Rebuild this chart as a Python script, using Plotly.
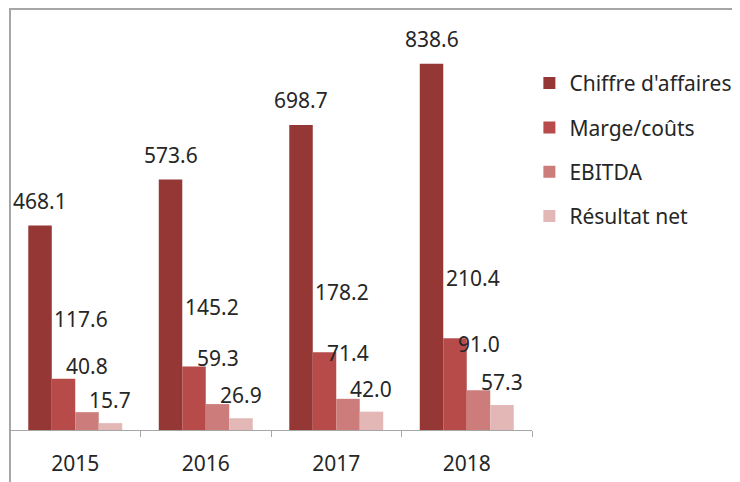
import plotly.graph_objects as go

years = ["2015", "2016", "2017", "2018"]
series_names = ["Chiffre d'affaires", "Marge/coûts", "EBITDA", "Résultat net"]
chiffre = [468.1, 573.6, 698.7, 838.6]
marge = [117.6, 145.2, 178.2, 210.4]
ebitda = [40.8, 59.3, 71.4, 91.0]
resultat = [15.7, 26.9, 42.0, 57.3]

colors = ["#953735", "#b64b49", "#cb7c7b", "#e2b7b6"]
# label placement per series: (x shift, y shift) in px, relative to the bar top
label_shift = [(-35, 25), (6, 60), (12, 46), (35, 23)]
text_color = "#262626"
font_family = "Noto Sans, Open Sans, sans-serif"
fsize = 21


def main():
    fig = go.Figure()
    all_values = [chiffre, marge, ebitda, resultat]
    for i, (name, vals) in enumerate(zip(series_names, all_values)):
        fig.add_trace(go.Bar(
            x=years, y=vals, name=name,
            marker=dict(color=colors[i], line=dict(width=0)),
            legendgroup=name,
        ))
        dx, dy = label_shift[i]
        # numeric x on a category axis = category index
        for j, v in enumerate(vals):
            fig.add_annotation(
                x=j, y=v, text=f"{v:.1f}", showarrow=False,
                xshift=dx, yshift=dy, yanchor="middle",
                font=dict(size=fsize, color=text_color, family=font_family),
            )

    # outer chart frame (bottom edge sits below the picture)
    fig.add_shape(
        type="rect", xref="paper", yref="paper",
        x0=0, x1=1.3927, y0=-0.3, y1=1.0713,
        line=dict(color="#a6a6a6", width=2), layer="above",
    )

    # the page body adds an 8px margin, so the figure is 8px smaller
    fig.update_layout(
        width=732, height=474,
        margin=dict(l=2, r=208, t=29, b=52),
        barmode="group", bargap=0.28, bargroupgap=0,
        plot_bgcolor="white", paper_bgcolor="white",
        font=dict(family=font_family, color=text_color, size=fsize),
        showlegend=True,
        legend=dict(
            x=0.995, y=0.934, xanchor="left", yanchor="top",
            font=dict(size=fsize, color=text_color),
            tracegroupgap=14, itemwidth=30,
            bgcolor="rgba(0,0,0,0)",
        ),
    )
    fig.update_xaxes(
        type="category", range=[-0.5, 3.5],
        showline=True, linecolor="#a6a6a6", linewidth=1,
        ticks="outside", ticklen=6, tickcolor="#a6a6a6", tickson="boundaries",
        showgrid=False, ticklabelstandoff=15, tickangle=0,
        tickfont=dict(size=fsize, color=text_color),
    )
    fig.update_yaxes(range=[0, 900], visible=False, showgrid=False)

    fig.write_html("out.html")


if __name__ == "__main__":
    main()
